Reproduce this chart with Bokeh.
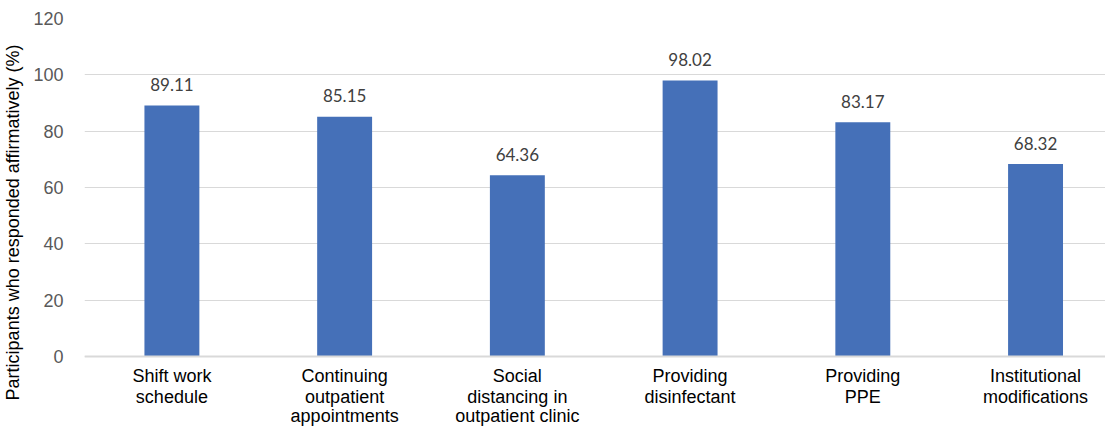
from bokeh.plotting import figure
from bokeh.models import ColumnDataSource, FixedTicker, Range1d, Span
from bokeh.embed import file_html
from bokeh.resources import INLINE
from bokeh.core.properties import value

categories = ["Shift work schedule", "Continuing outpatient appointments",
              "Social distancing in outpatient clinic", "Providing disinfectant",
              "Providing PPE", "Institutional modifications"]
category_lines = [["Shift work", "schedule"],
                  ["Continuing", "outpatient", "appointments"],
                  ["Social", "distancing in", "outpatient clinic"],
                  ["Providing", "disinfectant"],
                  ["Providing", "PPE"],
                  ["Institutional", "modifications"]]
values = [89.11, 85.15, 64.36, 98.02, 83.17, 68.32]
labels = ["89.11", "85.15", "64.36", "98.02", "83.17", "68.32"]
y_ticks = [0, 20, 40, 60, 80, 100, 120]

# category slot centres (index-based positions on a numeric axis)
xpos = [i + 0.5 for i in range(len(categories))]
src = ColumnDataSource(dict(x=xpos, cat=categories, val=values, lab=labels))

# the original chart is slightly cropped on the right; frame extends below zero to host labels
p = figure(x_range=Range1d(-0.006, 5.905), y_range=Range1d(-24.85, 120),
           frame_width=1021, frame_height=408,
           output_backend="svg", toolbar_location=None,
           min_border_left=78, min_border_right=0, min_border_top=18, min_border_bottom=0)
p.outline_line_color = None
p.background_fill_color = "white"
p.border_fill_color = "white"

p.vbar(x="x", top="val", width=0.318, source=src, color="#4570B8", line_color=None)
p.text(x="x", y="val", text="lab", source=src, text_align="center", text_baseline="middle",
       y_offset=-21, text_font=value("Lato"), text_font_size="17px", text_color="#404040")

p.xgrid.grid_line_color = None
p.ygrid.grid_line_color = "#d9d9d9"
p.ygrid.grid_line_width = 1
p.yaxis.ticker = FixedTicker(ticks=y_ticks)
p.yaxis.axis_line_color = None
p.yaxis.major_tick_line_color = None
p.yaxis.minor_tick_line_color = None
p.yaxis.major_label_text_color = "#595959"
p.yaxis.major_label_text_font = "Liberation Sans"
p.yaxis.major_label_text_font_size = "18px"
p.yaxis.major_label_standoff = 15
p.yaxis.axis_label = "Participants who responded affirmatively (%)"
p.yaxis.axis_label_text_font = "Liberation Sans"
p.yaxis.axis_label_text_font_style = "normal"
p.yaxis.axis_label_text_font_size = "18px"
p.yaxis.axis_label_text_color = "#000000"
p.yaxis.axis_label_standoff = 7

p.xaxis.visible = False

p.add_layout(Span(location=0, dimension="width", line_color="#d9d9d9", line_width=2))

# multi-line category labels below the zero line
offsets = [19, 40, 59]
for i, off in enumerate(offsets):
    xs, ts = [], []
    for x, lines in zip(xpos, category_lines):
        if i < len(lines):
            xs.append(x)
            ts.append(lines[i])
    p.text(x=xs, y=[0] * len(xs), text=ts, y_offset=off, text_align="center",
           text_baseline="middle", text_font=value("Liberation Sans"),
           text_font_size="18px", text_color="#000000")

open("out.html", "w").write(file_html(p, INLINE))
